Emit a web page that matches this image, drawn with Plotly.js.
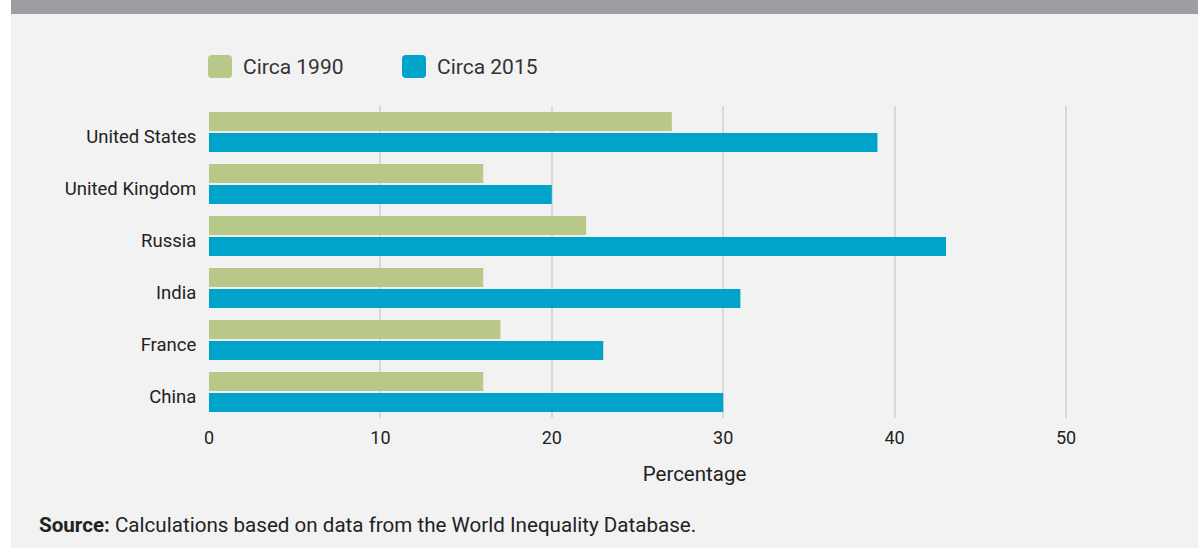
<!DOCTYPE html>
<html>
<head>
<meta charset="utf-8">
<script src="https://cdn.plot.ly/plotly-3.0.1.min.js"></script>
<style>
  html, body { margin: 0; padding: 0; background: #f2f2f2; }
  #chart { width: 1198px; height: 548px; }
</style>
</head>
<body>
<div id="chart"></div>
<script>
// Data
const countries = ["United States", "United Kingdom", "Russia", "India", "France", "China"];
const circa1990 = [27, 16, 22, 16, 17, 16];
const circa2015 = [39, 20, 43, 31, 23, 30];
const seriesNames = ["Circa 1990", "Circa 2015"];
const xTicks = [0, 10, 20, 30, 40, 50];

const green = "#b8c888";
const blue = "#00a3c9";
const font = "Roboto, 'Noto Sans', sans-serif";

// plot area geometry (px) for paper-coordinate conversion
const L = 209, R = 1180, T = 106, B = 418, W = 1198, H = 548;
const px = v => (v - L) / (R - L);
const py = v => (B - v) / (B - T);

const traces = [
  { type: "bar", orientation: "h", name: seriesNames[0], y: countries, x: circa1990,
    marker: { color: green }, hoverinfo: "x+name" },
  { type: "bar", orientation: "h", name: seriesNames[1], y: countries, x: circa2015,
    marker: { color: blue }, hoverinfo: "x+name" }
];

function roundRect(w, h, r) {
  return `M${r},0 L${w - r},0 Q${w},0 ${w},${r} L${w},${h - r} Q${w},${h} ${w - r},${h} ` +
         `L${r},${h} Q0,${h} 0,${h - r} L0,${r} Q0,0 ${r},0 Z`;
}

const legendY = 55;
const shapes = [
  // top grey band
  { type: "rect", xref: "paper", yref: "paper", x0: px(11), x1: px(W), y0: py(14), y1: py(0),
    fillcolor: "#9d9ea2", line: { width: 0 }, layer: "below" },
  // left white strip
  { type: "rect", xref: "paper", yref: "paper", x0: px(0), x1: px(11), y0: py(H), y1: py(0),
    fillcolor: "#ffffff", line: { width: 0 }, layer: "below" },
  // legend swatches
  { type: "path", xref: "paper", yref: "paper", xsizemode: "pixel", ysizemode: "pixel",
    xanchor: px(208), yanchor: py(legendY + 23), path: roundRect(24, 23, 4),
    fillcolor: green, line: { width: 0 } },
  { type: "path", xref: "paper", yref: "paper", xsizemode: "pixel", ysizemode: "pixel",
    xanchor: px(402), yanchor: py(legendY + 23), path: roundRect(24, 23, 4),
    fillcolor: blue, line: { width: 0 } }
];

const annotations = [
  { xref: "paper", yref: "paper", x: px(241), y: py(67), xanchor: "left", yanchor: "middle",
    text: seriesNames[0], showarrow: false, font: { family: font, size: 21, color: "#333333" } },
  { xref: "paper", yref: "paper", x: px(435), y: py(67), xanchor: "left", yanchor: "middle",
    text: seriesNames[1], showarrow: false, font: { family: font, size: 21, color: "#333333" } },
  { xref: "paper", yref: "paper", x: px(37), y: py(525), xanchor: "left", yanchor: "middle",
    text: "<b>Source:</b> Calculations based on data from the World Inequality Database.",
    showarrow: false, font: { family: font, size: 20.6, color: "#222222" } }
];

const layout = {
  width: W, height: H,
  margin: { l: L, r: W - R, t: T, b: H - B, pad: 0 },
  paper_bgcolor: "#f2f2f2",
  plot_bgcolor: "#f2f2f2",
  font: { family: font, color: "#222222" },
  showlegend: false,
  barmode: "group",
  bargap: 0.19,
  bargroupgap: 0.095,
  xaxis: {
    range: [0, 56.65],
    tickvals: xTicks,
    ticktext: xTicks.map(String),
    showgrid: true, gridcolor: "#d8d8d8", gridwidth: 2,
    zeroline: false, showline: false,
    ticks: "outside", ticklen: 3, tickcolor: "rgba(0,0,0,0)",
    tickfont: { family: font, size: 18, color: "#222222" },
    title: { text: "Percentage", font: { family: font, size: 20.5, color: "#222222" }, standoff: 20 },
    fixedrange: true
  },
  yaxis: {
    categoryorder: "array",
    categoryarray: countries,
    autorange: "reversed",
    showgrid: false, zeroline: false, showline: false,
    ticks: "outside", ticklen: 8, tickcolor: "rgba(0,0,0,0)",
    ticklabelshift: -5,
    tickfont: { family: font, size: 18.5, color: "#222222" },
    fixedrange: true
  },
  shapes: shapes,
  annotations: annotations
};

Plotly.newPlot("chart", traces, layout, { displayModeBar: false, staticPlot: true });
</script>
</body>
</html>
